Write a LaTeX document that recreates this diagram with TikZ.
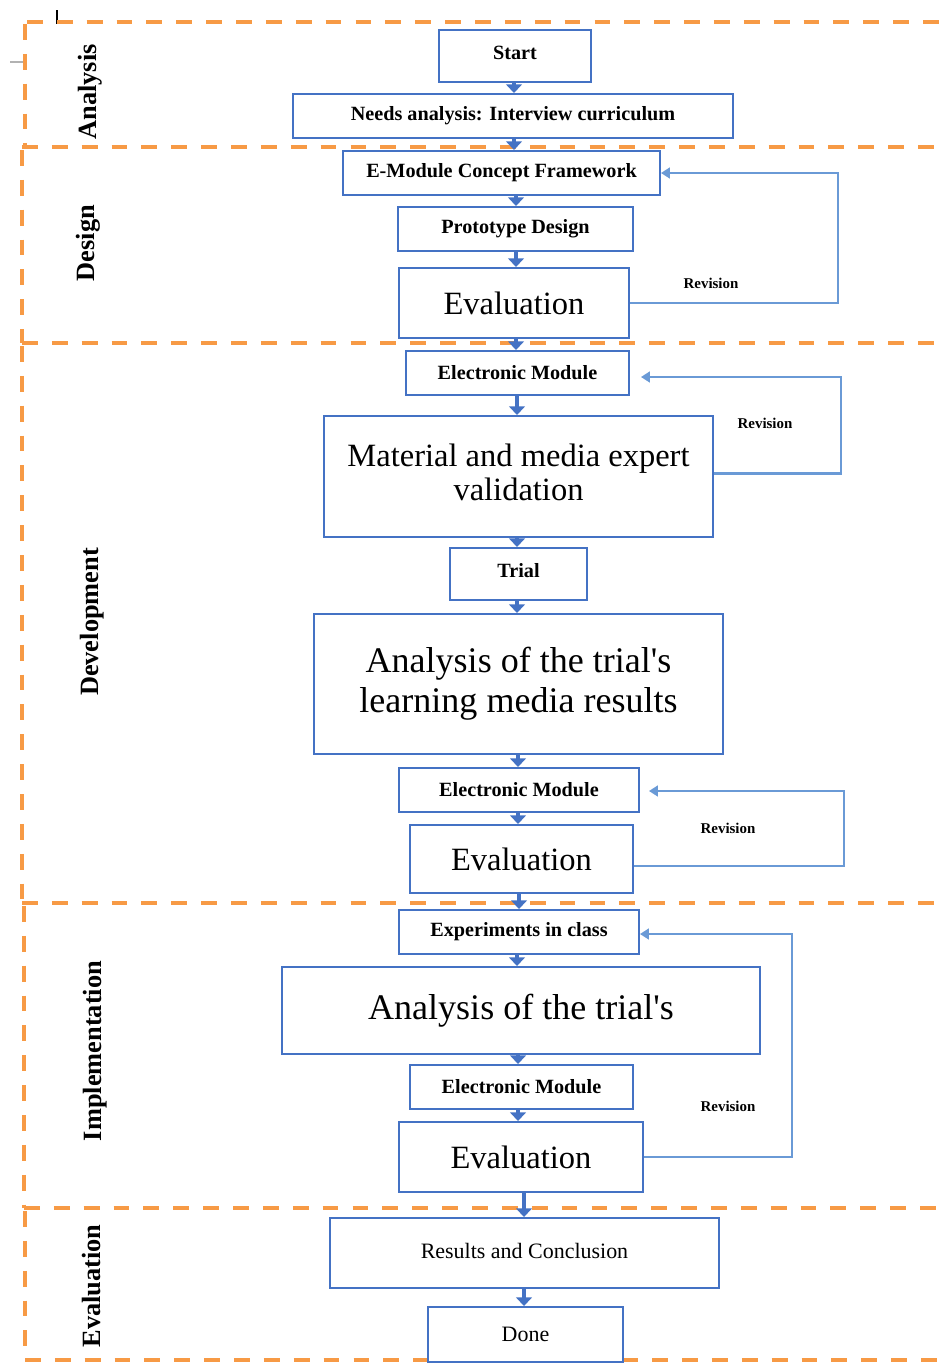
\documentclass[tikz,border=0pt]{standalone}
\usepackage{fontspec}
\setmainfont{Liberation Serif}
\usetikzlibrary{arrows.meta,calc}
\newdimen\pu \pu=0.02cm
\definecolor{boxblue}{HTML}{4472C4}
\definecolor{revblue}{HTML}{6A9AD6}
\definecolor{dashor}{HTML}{F79A45}
\begin{document}
\begin{tikzpicture}[x=0.02cm,y=-0.02cm,
  box/.style={draw=boxblue, line width=1.1pt, inner sep=0pt, align=center, fill=white},
  sm/.style={font=\fontsize{11.5}{13}\selectfont\bfseries},
  lg/.style={font=\fontsize{18.5}{20}\selectfont},
  xl/.style={font=\fontsize{20.5}{22.7}\selectfont},
  rg/.style={font=\fontsize{12.5}{14}\selectfont},
  blk/.style={draw=boxblue, line width=2.8pt, -{Triangle[width=9pt,length=5pt]}},
  rev/.style={draw=revblue, line width=1.4pt, -{Triangle[width=6pt,length=5pt]}},
  revlbl/.style={font=\fontsize{8.5}{9}\selectfont\bfseries},
  dsh/.style={draw=dashor, line width=2pt, dash pattern=on 9pt off 8pt},
  sec/.style={rotate=90, font=\fontsize{15}{16}\selectfont\bfseries}]
\useasboundingbox (0,0) rectangle (946,1363);
\fill[white] (0,0) rectangle (946,1363);

% small artifacts
\draw[black, line width=1.2pt] (57,10) -- (57,24);
\draw[gray!60, line width=1pt] (10,62) -- (24,62) -- (24,67);

% section dashed frames
\draw[dsh] (27,22) -- (946,22);
\draw[dsh] (22,147) -- (946,147);
\draw[dsh] (22,343) -- (946,343);
\draw[dsh] (22,903) -- (946,903);
\draw[dsh] (24,1208) -- (946,1208);
\draw[dsh] (25,1360) -- (946,1360);
\draw[dsh] (25,24) -- (25,147);
\draw[dsh] (22,150) -- (22,343);
\draw[dsh] (22,346) -- (22,903);
\draw[dsh] (24,906) -- (24,1208);
\draw[dsh] (25,1211) -- (25,1360);

% section labels
\node[sec] (lan) at (90,92) {Analysis};
\node[sec] (lde) at (88,243) {Design};
\node[sec] (ldv) at (92,622) {Development};
\node[sec] (lim) at (95,1051) {Implementation};
\node[sec] (lev) at (92,1286) {Evaluation};

% boxes
\node[box,sm,minimum width=152\pu,minimum height=52\pu] (start) at (515,56) {\raisebox{3.5pt}{Start}};
\node[box,sm,minimum width=440\pu,minimum height=44\pu] (needs) at (513,116) {Needs analysis: Interview curriculum};
\node[box,sm,minimum width=317\pu,minimum height=44\pu] (emod) at (501.5,173) {E-Module Concept Framework};
\node[box,sm,minimum width=235\pu,minimum height=44\pu] (proto) at (515.5,229) {Prototype Design};
\node[box,lg,minimum width=230\pu,minimum height=70\pu] (eval1) at (514,303) {Evaluation};
\node[box,sm,minimum width=223\pu,minimum height=44\pu] (em1) at (517.5,373) {Electronic Module};
\node[box,lg,minimum width=389\pu,minimum height=121\pu] (mat) at (518.5,476.5) {\raisebox{2pt}{\begin{tabular}{@{}c@{}}Material and media expert\\[-0.5pt]validation\end{tabular}}};
\node[box,sm,minimum width=137\pu,minimum height=52\pu] (trial) at (518.5,574) {\raisebox{4pt}{Trial}};
\node[box,xl,minimum width=409\pu,minimum height=140\pu] (anal) at (518.5,684) {Analysis of the trial\textquotesingle s\\learning media results};
\node[box,sm,minimum width=240\pu,minimum height=44\pu] (em2) at (519,790) {Electronic Module};
\node[box,lg,minimum width=223\pu,minimum height=68\pu] (eval2) at (521.5,859) {Evaluation};
\node[box,sm,minimum width=240\pu,minimum height=44\pu] (exp) at (519,932) {Experiments in class};
\node[box,xl,minimum width=478\pu,minimum height=87\pu] (anal2) at (521,1010.5) {Analysis of the trial\textquotesingle s};
\node[box,sm,minimum width=223\pu,minimum height=44\pu] (em3) at (521.5,1087) {Electronic Module};
\node[box,lg,minimum width=244\pu,minimum height=70\pu] (eval3) at (521,1157) {Evaluation};
\node[box,rg,minimum width=389\pu,minimum height=70\pu] (res) at (524.5,1253) {\raisebox{2pt}{Results and Conclusion}};
\node[box,rg,minimum width=195\pu,minimum height=55\pu] (done) at (525.5,1334.5) {Done};

% axes for the block arrows
\coordinate (a1) at (514,0);
\coordinate (a2) at (516,0);
\coordinate (a3) at (517,0);
\coordinate (a4) at (518,0);
\coordinate (a5) at (519,0);
\coordinate (a6) at (524,0);

\draw[blk] (start.south -| a1) -- (needs.north -| a1);
\draw[blk] (needs.south -| a1) -- (emod.north -| a1);
\draw[blk] (emod.south -| a2) -- (proto.north -| a2);
\draw[blk] (proto.south -| a2) -- (eval1.north -| a2);
\draw[blk] (eval1.south -| a2) -- (em1.north -| a2);
\draw[blk] (em1.south -| a3) -- (mat.north -| a3);
\draw[blk] (mat.south -| a3) -- (trial.north -| a3);
\draw[blk] (trial.south -| a3) -- (anal.north -| a3);
\draw[blk] (anal.south -| a4) -- (em2.north -| a4);
\draw[blk] (em2.south -| a4) -- (eval2.north -| a4);
\draw[blk] (eval2.south -| a5) -- (exp.north -| a5);
\draw[blk] (exp.south -| a3) -- (anal2.north -| a3);
\draw[blk] (anal2.south -| a4) -- (em3.north -| a4);
\draw[blk] (em3.south -| a4) -- (eval3.north -| a4);
\draw[blk] (eval3.south -| a6) -- (res.north -| a6);
\draw[blk] (res.south -| a6) -- (done.north -| a6);

% revision loops
\coordinate (r1) at (838,0);
\draw[rev] (eval1.east) -| (r1 |- emod.east) -- (emod.east);
\draw[rev] ($(mat.east)+(0,-3)$) -| ($(em1.east)+(211,4)$) -- ($(em1.east)+(11,4)$);
\draw[rev] ($(eval2.east)+(0,7)$) -| ($(em2.east)+(204,1)$) -- ($(em2.east)+(9,1)$);
\draw[rev] (eval3.east) -| ($(exp.east)+(152,2)$) -- ($(exp.east)+(0,2)$);

\node[revlbl] (rv1) at (711,283) {Revision};
\node[revlbl] (rv2) at (765,423) {Revision};
\node[revlbl] (rv3) at (728,828) {Revision};
\node[revlbl] (rv4) at (728,1106) {Revision};
\end{tikzpicture}
\end{document}
